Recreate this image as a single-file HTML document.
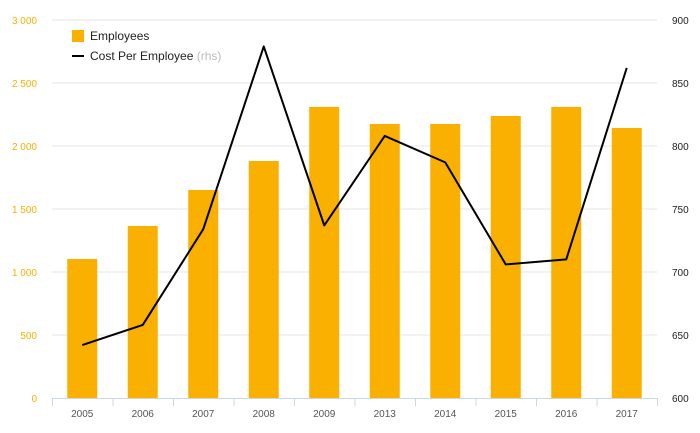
<!DOCTYPE html>
<html><head><meta charset="utf-8"><style>
html,body{margin:0;padding:0;background:#fff;}
svg{display:block;font-family:"Liberation Sans",sans-serif;}
</style></head><body>
<svg id="chart" width="700" height="433">
<g id="grid"></g>
<g id="bars"></g>
<g id="line"></g>
<g id="axes"></g>
<g>
<rect x="72" y="30" width="12" height="12" fill="#f9b000"/>
<text x="90" y="40" font-size="12" fill="#222">Employees</text>
<line x1="72" y1="56" x2="84" y2="56" stroke="#000" stroke-width="2"/>
<text x="90" y="60" font-size="12" fill="#222">Cost Per Employee <tspan fill="#bbb">(rhs)</tspan></text>
</g>
</svg>
<script>
const categories=["2005","2006","2007","2008","2009","2013","2014","2015","2016","2017"];
const employees=[1103,1365,1651,1881,2310,2175,2175,2238,2310,2143];
const costPerEmployee=[642,658,734,879,737,808,787,706,710,862];
const leftTicks=[0,500,1000,1500,2000,2500,3000];
const rightTicks=[600,650,700,750,800,850,900];
const NS="http://www.w3.org/2000/svg";
const X0=52,X1=657,Y0=398,Y1=20;
const bw=(X1-X0)/categories.length;
const xc=i=>X0+bw*(i+0.5);
const yL=v=>Y0-(v/3000)*(Y0-Y1);
const yR=v=>Y0-((v-600)/300)*(Y0-Y1);
function mk(tag,attrs,parent){const e=document.createElementNS(NS,tag);for(const k in attrs)e.setAttribute(k,attrs[k]);parent.appendChild(e);return e;}
const grid=document.getElementById('grid'),bars=document.getElementById('bars'),line=document.getElementById('line'),axes=document.getElementById('axes');
leftTicks.forEach((t,i)=>{
  const y=yL(t);
  if(i>0){const g=mk('line',{x1:X0,x2:X1,y1:y,y2:y,stroke:'#e6e6e6','stroke-width':1},grid);
  
  }
  const tx=mk('text',{x:37,y:y+4,'font-size':10,fill:'#f9b000','text-anchor':'end'},axes);
  tx.textContent=t===0?'0':t.toLocaleString('en-US').replace(',',' ');
  
  
});
rightTicks.forEach(t=>{
  const tx=mk('text',{x:672,y:yR(t)+4,'font-size':10,fill:'#222'},axes);
  tx.textContent=t;
  
  
});
const ax=mk('line',{x1:X0,x2:X1,y1:Y0+0.5,y2:Y0+0.5,stroke:'#ccd6eb','stroke-width':1},axes);


categories.forEach((c,i)=>{
  const tk=mk('line',{x1:X0+bw*i+0.5,x2:X0+bw*i+0.5,y1:Y0,y2:Y0+8,stroke:'#ccd6eb'},axes);
  
  
  const b=mk('rect',{x:xc(i)-15,y:yL(employees[i]),width:30,height:Y0-yL(employees[i]),fill:'#f9b000'},bars);
  
  
  const tx=mk('text',{x:xc(i),y:417,'font-size':10,fill:'#555','text-anchor':'middle'},axes);
  tx.textContent=c;
  
  
});
const tk2=mk('line',{x1:X1+0.5,x2:X1+0.5,y1:Y0,y2:Y0+8,stroke:'#ccd6eb'},axes);


const p=mk('polyline',{points:costPerEmployee.map((v,i)=>xc(i)+','+yR(v)).join(' '),fill:'none',stroke:'#000','stroke-width':2,'stroke-linejoin':'round'},line);


</script>
</body></html>
